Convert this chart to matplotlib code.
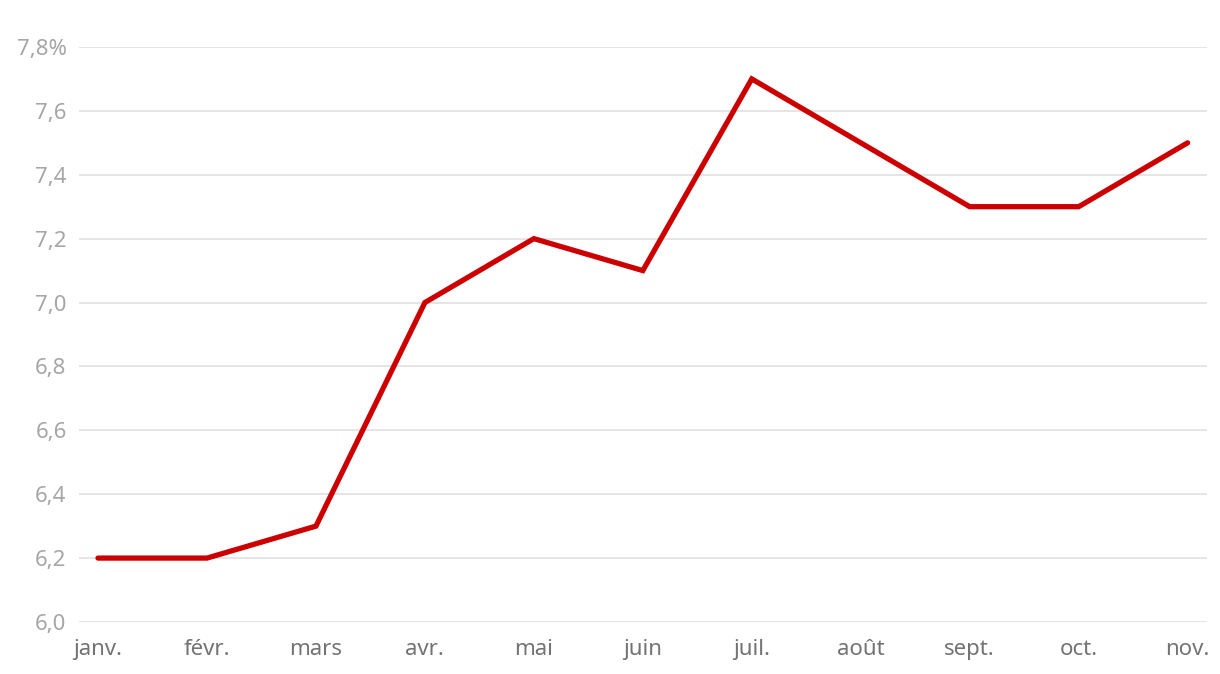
import matplotlib
matplotlib.use('Agg')
import matplotlib.pyplot as plt

months = ['janv.', 'févr.', 'mars', 'avr.', 'mai', 'juin', 'juil.', 'août', 'sept.', 'oct.', 'nov.']
values = [6.2, 6.2, 6.3, 7.0, 7.2, 7.1, 7.7, 7.5, 7.3, 7.3, 7.5]
yticks = [6.0, 6.2, 6.4, 6.6, 6.8, 7.0, 7.2, 7.4, 7.6, 7.8]
ylabels = ['6,0', '6,2', '6,4', '6,6', '6,8', '7,0', '7,2', '7,4', '7,6', '7,8%']

plt.rcParams['font.family'] = ['Noto Sans', 'DejaVu Sans']

fig = plt.figure(figsize=(12.2, 6.74), dpi=100)
ax = fig.add_axes([0.0648, 0.0772, 0.9242, 0.8531])

x = list(range(len(months)))
ax.plot(x, values, color='#cc0000', linewidth=3.8, solid_joinstyle='miter',
        solid_capstyle='round', zorder=3)

ax.set_xlim(-0.174, len(months) - 1 + 0.174)
ax.set_ylim(6.0, 7.8)
ax.set_yticks(yticks)
ax.set_yticklabels(ylabels)
ax.set_xticks(x)
ax.set_xticklabels(months)

ax.grid(axis='y', color='#e0e0e0', linewidth=1.2)
ax.set_axisbelow(True)
for s in ax.spines.values():
    s.set_visible(False)
ax.tick_params(axis='y', length=0, pad=9, labelsize=16, labelcolor='#a6a6a6')
ax.tick_params(axis='x', length=0, pad=12, labelsize=16, labelcolor='#737373')

fig.savefig('out.png', dpi=100)
